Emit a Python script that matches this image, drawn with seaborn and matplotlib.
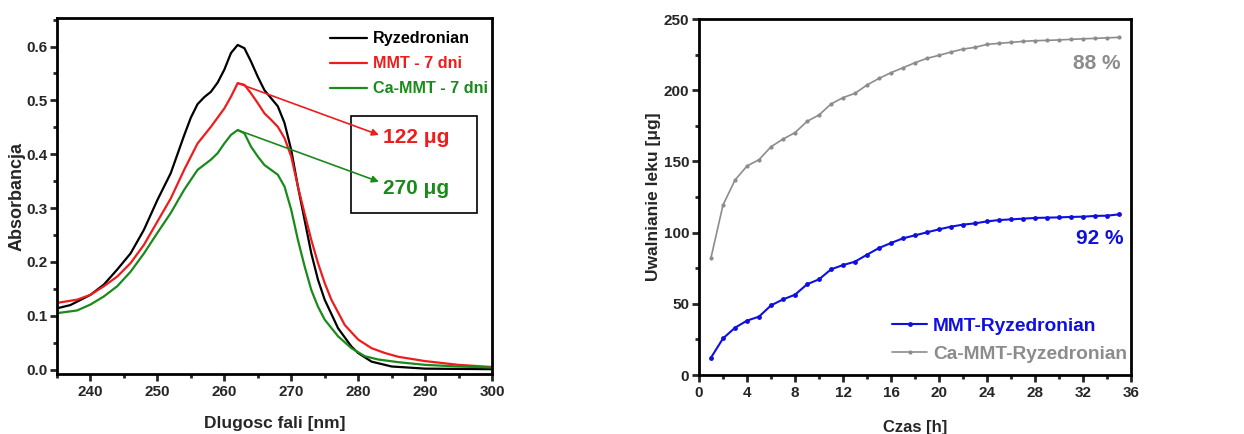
import matplotlib
matplotlib.use("Agg")
import matplotlib.pyplot as plt
from matplotlib.patches import Rectangle
from matplotlib.lines import Line2D
from matplotlib.ticker import MultipleLocator
import numpy as np
import pandas as pd
import seaborn as sns

sns.set_style("ticks")
plt.rcParams["font.family"] = ["Liberation Sans", "DejaVu Sans"]
plt.rcParams["font.weight"] = "bold"

# --- UV spectra ---
black_nm = [235, 237, 240, 242, 244, 246, 248, 250, 252, 254, 255, 256, 257, 258, 259, 260,
            261, 262, 263, 264, 265, 266, 267, 268, 269, 270, 271, 272, 273, 274, 275, 277,
            279, 280, 282, 285, 290, 300]
black_abs = [0.114, 0.12, 0.139, 0.158, 0.186, 0.216, 0.26, 0.315, 0.365, 0.435, 0.468, 0.493,
             0.506, 0.516, 0.533, 0.557, 0.588, 0.603, 0.597, 0.572, 0.544, 0.519, 0.504, 0.489,
             0.458, 0.408, 0.34, 0.278, 0.216, 0.167, 0.13, 0.077, 0.043, 0.031, 0.015, 0.006,
             0.002, 0.001]

red_nm = [235, 238, 240, 242, 244, 246, 248, 250, 252, 254, 256, 258, 260, 261, 262, 263, 264,
          265, 266, 267, 268, 269, 270, 271, 272, 273, 274, 275, 276, 278, 280, 282, 284, 286,
          290, 295, 300]
red_abs = [0.124, 0.13, 0.139, 0.155, 0.173, 0.198, 0.232, 0.275, 0.318, 0.371, 0.42, 0.451,
           0.485, 0.507, 0.532, 0.529, 0.513, 0.495, 0.476, 0.464, 0.451, 0.43, 0.396, 0.34,
           0.29, 0.241, 0.198, 0.161, 0.13, 0.083, 0.056, 0.04, 0.031, 0.024, 0.016, 0.009,
           0.005]

green_nm = [235, 238, 240, 242, 244, 246, 248, 250, 252, 254, 256, 258, 259, 260, 261, 262, 263,
            264, 265, 266, 267, 268, 269, 270, 271, 272, 273, 274, 275, 277, 279, 281, 283, 286,
            290, 295, 300]
green_abs = [0.105, 0.11, 0.121, 0.136, 0.155, 0.182, 0.216, 0.254, 0.291, 0.334, 0.371, 0.39,
             0.402, 0.42, 0.436, 0.445, 0.439, 0.414, 0.396, 0.38, 0.371, 0.362, 0.34, 0.297,
             0.241, 0.192, 0.148, 0.117, 0.093, 0.062, 0.04, 0.025, 0.019, 0.014, 0.009, 0.006,
             0.004]

spectra_labels = ["Ryzedronian", "MMT - 7 dni", "Ca-MMT - 7 dni"]
spectra_colors = ["#000000", "#ee1c1c", "#1a8a1a"]
released_labels = ["122 \u03bcg", "270 \u03bcg"]

# --- release kinetics ---
time_h = list(range(1, 36))
mmt_release = [12.2, 25.7, 33.2, 38.2, 41.0, 48.9, 53.1, 56.4, 63.7, 67.2, 74.2, 77.2, 79.6,
               84.5, 89.2, 92.7, 96.0, 98.1, 100.2, 102.3, 104.2, 105.6, 106.5, 107.9, 108.8,
               109.3, 109.8, 110.3, 110.5, 110.7, 111.0, 111.2, 111.7, 111.9, 112.8]
camm_release = [82.4, 119.4, 136.9, 146.8, 151.2, 160.3, 165.7, 170.2, 178.1, 182.6, 190.3,
                194.8, 197.8, 203.7, 208.3, 212.3, 215.8, 219.3, 222.4, 224.5, 226.8, 228.9,
                230.1, 232.2, 232.9, 233.6, 234.3, 234.8, 235.0, 235.3, 235.7, 236.1, 236.4,
                236.8, 237.1]
release_labels = ["MMT-Ryzedronian", "Ca-MMT-Ryzedronian"]
release_colors = ["#1010dd", "#8c8c8c"]
percent_labels = ["92 %", "88 %"]

fig = plt.figure(figsize=(12.44, 4.34), dpi=100)
ax1 = fig.add_axes([0.0458, 0.1382, 0.3497, 0.8203])
ax2 = fig.add_axes([0.5619, 0.1359, 0.3473, 0.8203])


def style_axes(ax):
    for s in ax.spines.values():
        s.set_linewidth(2.0)
        s.set_color("black")
    ax.tick_params(which="major", direction="out", length=5, width=2, labelsize=11,
                   top=False, right=False, pad=3)
    ax.tick_params(which="minor", direction="out", length=3, width=2, top=False, right=False)
    ax.tick_params(axis="y", which="major", pad=2)
    for lab in ax.get_xticklabels() + ax.get_yticklabels():
        lab.set_fontweight("bold")


# Left: absorbance spectra
spec_df = pd.concat([
    pd.DataFrame({"nm": black_nm, "A": black_abs, "s": spectra_labels[0]}),
    pd.DataFrame({"nm": red_nm, "A": red_abs, "s": spectra_labels[1]}),
    pd.DataFrame({"nm": green_nm, "A": green_abs, "s": spectra_labels[2]}),
])
sns.lineplot(data=spec_df, x="nm", y="A", hue="s", palette=spectra_colors,
             hue_order=spectra_labels, estimator=None, sort=False, linewidth=1.6,
             legend=False, ax=ax1)
ax1.set_xlim(235, 300)
ax1.set_ylim(-0.008, 0.653)
ax1.xaxis.set_major_locator(MultipleLocator(10))
ax1.xaxis.set_minor_locator(MultipleLocator(5))
ax1.yaxis.set_major_locator(MultipleLocator(0.1))
ax1.yaxis.set_minor_locator(MultipleLocator(0.05))
ax1.set_xlabel("Dlugosc fali [nm]", fontsize=12.5, fontweight="bold", labelpad=12)
ax1.set_ylabel("Absorbancja", fontsize=13, fontweight="bold", labelpad=0)
style_axes(ax1)

handles1 = [Line2D([], [], color=c, lw=1.6) for c in spectra_colors]
leg1 = ax1.legend(handles1, spectra_labels, loc="upper left", bbox_to_anchor=(0.628, 0.963),
                  frameon=False, prop={"size": 11.6, "weight": "bold"}, handlelength=2.3,
                  handletextpad=0.33, labelspacing=0.62, borderpad=0, borderaxespad=0)
for t, c in zip(leg1.get_texts(), spectra_colors):
    t.set_color(c)

ax1.add_patch(Rectangle((278.9, 0.291), 18.8, 0.180, fill=False, edgecolor="black",
                        linewidth=1.2, zorder=3))
peaks = [(262.0, 0.532), (262.0, 0.445)]
arrow_ends = [(283.1, 0.436), (283.1, 0.349)]
text_y = [0.432, 0.336]
for (px, py), (ex, ey), ty, lab, c in zip(peaks, arrow_ends, text_y, released_labels,
                                           spectra_colors[1:]):
    ax1.annotate("", xy=(ex, ey), xytext=(px, py),
                 arrowprops=dict(arrowstyle="-|>", color=c, lw=1.2, mutation_scale=10,
                                 shrinkA=0, shrinkB=0))
    ax1.text(283.7, ty, lab, color=c, fontsize=15, fontweight="bold", va="center", ha="left")

# Right: cumulative release
rel_df = pd.concat([
    pd.DataFrame({"t": time_h, "m": mmt_release, "s": release_labels[0]}),
    pd.DataFrame({"t": time_h, "m": camm_release, "s": release_labels[1]}),
])
sns.lineplot(data=rel_df[rel_df.s == release_labels[0]], x="t", y="m", color=release_colors[0],
             marker="o", markersize=3.5, markeredgewidth=0, linewidth=1.5, legend=False, ax=ax2)
sns.lineplot(data=rel_df[rel_df.s == release_labels[1]], x="t", y="m", color=release_colors[1],
             marker="o", markersize=3, markeredgewidth=0, linewidth=1.2, legend=False, ax=ax2)
ax2.set_xlim(0, 36)
ax2.set_ylim(0, 250)
ax2.xaxis.set_major_locator(MultipleLocator(4))
ax2.xaxis.set_minor_locator(MultipleLocator(2))
ax2.yaxis.set_major_locator(MultipleLocator(50))
ax2.yaxis.set_minor_locator(MultipleLocator(25))
ax2.set_xlabel("Czas [h]", fontsize=12, fontweight="bold", labelpad=14)
ax2.set_ylabel("Uwalnianie leku [\u03bcg]", fontsize=12.5, fontweight="bold", labelpad=2)
style_axes(ax2)

handles2 = [Line2D([], [], color=release_colors[0], lw=1.5, marker="o", markersize=3.5,
                   markeredgewidth=0),
            Line2D([], [], color=release_colors[1], lw=1.2, marker="o", markersize=3,
                   markeredgewidth=0)]
leg2 = ax2.legend(handles2, release_labels, loc="lower left", bbox_to_anchor=(0.447, 0.034),
                  frameon=False, prop={"size": 13.8, "weight": "bold"}, handlelength=1.82,
                  handletextpad=0.3, labelspacing=0.55, borderpad=0, borderaxespad=0)
for t, c in zip(leg2.get_texts(), release_colors):
    t.set_color(c)

ax2.text(35.4, 96.2, percent_labels[0], color=release_colors[0], fontsize=15,
         fontweight="bold", ha="right", va="center")
ax2.text(35.1, 219.0, percent_labels[1], color=release_colors[1], fontsize=15,
         fontweight="bold", ha="right", va="center")

fig.savefig("out.png", dpi=100, facecolor="white")
